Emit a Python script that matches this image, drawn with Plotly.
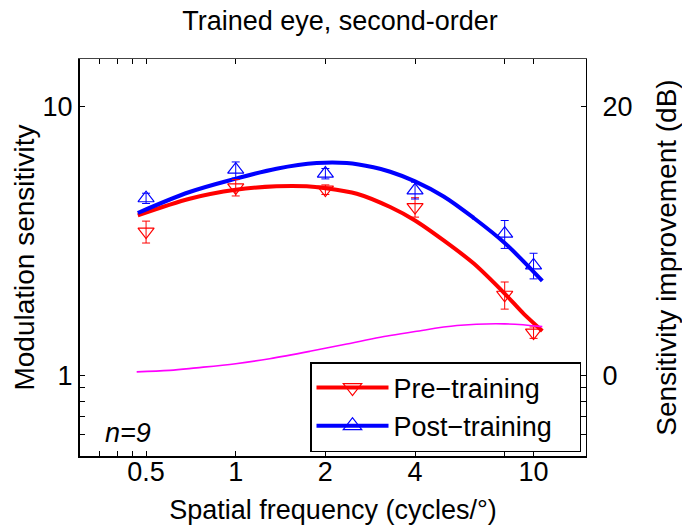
import plotly.graph_objects as go
import math

# ---- data ----
freqs = [0.5, 1, 2, 4, 8, 10]
pre_sens = [3.42, 4.99, 4.90, 4.22, 1.99, 1.44]
pre_err = [0.32, 0.35, 0.20, 0.35, 0.23, 0.07]
post_sens = [4.55, 5.81, 5.62, 4.87, 3.36, 2.56]
post_err = [0.20, 0.40, 0.25, 0.35, 0.40, 0.28]

pre_fit_f = [0.469, 0.70, 1.0, 1.37, 1.73, 2.0, 2.55, 3.30, 4.0, 4.99, 6.3, 8.0, 9.27, 10.7]
pre_fit_s = [3.93, 4.53, 4.89, 5.04, 5.04, 4.96, 4.73, 4.22, 3.76, 3.17, 2.60, 2.01, 1.69, 1.46]
post_fit_f = [0.469, 0.70, 1.0, 1.37, 1.87, 2.36, 2.90, 3.30, 4.0, 4.99, 6.3, 8.0, 10.7]
post_fit_s = [4.01, 4.80, 5.38, 5.86, 6.15, 6.15, 5.93, 5.71, 5.26, 4.62, 3.84, 3.10, 2.24]

impr_f = [0.465, 0.60, 0.738, 1.0, 1.30, 1.775, 2.36, 3.30, 4.0, 5.53, 8.0, 10.7]
impr_db = [0.24, 0.35, 0.54, 0.85, 1.22, 1.77, 2.32, 2.94, 3.24, 3.69, 3.81, 3.61]

x_tickvals = [0.35, 0.4, 0.45, 0.5, 1, 2, 4, 8, 10]
x_ticktext = ["", "", "", "0.5", "1", "2", "4", "", "10"]
y_tickvals = [0.6, 0.7, 0.8, 0.9, 1, 10]
y_ticktext = ["", "", "", "", "1", "10"]
y2_tickvals = [20 * math.log10(v) for v in y_tickvals]
y2_ticktext = ["", "", "", "", "0", "20"]

x_range = [0.3, 15]
y_range = [0.5, 15]

FONT = "Liberation Sans, Arial, Helvetica, sans-serif"
FS = 27
RED = "rgb(255,0,0)"
BLUE = "rgb(0,0,255)"
MAG = "rgb(255,0,255)"
NB = "\u00a0"

fig = go.Figure()

# magenta improvement curve (right axis, dB)
fig.add_trace(go.Scatter(x=impr_f, y=impr_db, mode="lines", line=dict(color=MAG, width=1.6, shape="spline"),
                         xaxis="x2", yaxis="y2", showlegend=False, hoverinfo="skip"))

# fits
fig.add_trace(go.Scatter(x=pre_fit_f, y=pre_fit_s, mode="lines",
                         line=dict(color=RED, width=4, shape="spline", smoothing=0.8), showlegend=False))
fig.add_trace(go.Scatter(x=post_fit_f, y=post_fit_s, mode="lines",
                         line=dict(color=BLUE, width=4, shape="spline", smoothing=1.0), showlegend=False))

# data points with error bars
fig.add_trace(go.Scatter(x=freqs, y=pre_sens, mode="markers",
                         marker=dict(symbol="triangle-down-open", size=14, color=RED, line=dict(width=1.2, color=RED)),
                         error_y=dict(type="data", array=pre_err, color=RED, thickness=1, width=4),
                         showlegend=False))
fig.add_trace(go.Scatter(x=freqs, y=post_sens, mode="markers",
                         marker=dict(symbol="triangle-up-open", size=14, color=BLUE, line=dict(width=1.2, color=BLUE)),
                         error_y=dict(type="data", array=post_err, color=BLUE, thickness=1, width=4),
                         showlegend=False))

# legend entries
fig.add_trace(go.Scatter(x=[None], y=[None], mode="lines+markers", name="Pre\u2212training" + NB * 3,
                         line=dict(color=RED, width=4),
                         marker=dict(symbol="triangle-down-open", size=20, color=RED, line=dict(width=1.2, color=RED))))
fig.add_trace(go.Scatter(x=[None], y=[None], mode="lines+markers", name="Post\u2212training" + NB * 3,
                         line=dict(color=BLUE, width=4),
                         marker=dict(symbol="triangle-up-open", size=20, color=BLUE, line=dict(width=1.2, color=BLUE))))

lx = [math.log10(v) for v in x_range]
ly = [math.log10(v) for v in y_range]
ly2 = [20 * v for v in ly]

fig.update_layout(
    width=682, height=527,
    margin=dict(l=80, r=96, t=59, b=71, autoexpand=False),
    paper_bgcolor="white", plot_bgcolor="white",
    font=dict(family=FONT, size=FS, color="black"),
    title=dict(text="Trained eye, second-order", x=340 / 682, xref="container", xanchor="center",
               y=1 - 21 / 527, yref="container", yanchor="middle", font=dict(size=FS)),
    xaxis=dict(type="log", range=lx, tickvals=x_tickvals, ticktext=x_ticktext, automargin=False,
               ticks="inside", ticklen=5, tickwidth=1, tickcolor="black", ticklabelstandoff=-9,
               showline=True, linewidth=2, linecolor="black", mirror=False, showgrid=False, zeroline=False,
               title=dict(text="Spatial frequency (cycles/\u00b0)", standoff=14, font=dict(size=FS)),
               tickfont=dict(size=FS)),
    xaxis2=dict(type="log", range=lx, overlaying="x", side="top", tickvals=x_tickvals, automargin=False,
                ticktext=[""] * len(x_tickvals), ticks="inside", ticklen=5, tickwidth=1, tickcolor="black",
                showline=True, linewidth=1, linecolor="#444", showgrid=False, zeroline=False),
    yaxis=dict(type="log", range=ly, tickvals=y_tickvals, ticktext=y_ticktext, automargin=False,
               ticks="inside", ticklen=5, tickwidth=1, tickcolor="black",
               showline=True, linewidth=2, linecolor="black", mirror=False, showgrid=False, zeroline=False,
               title=dict(text="Modulation sensitivity", standoff=0, font=dict(size=FS + 1)),
               tickfont=dict(size=FS)),
    yaxis2=dict(range=ly2, overlaying="y", side="right", tickvals=y2_tickvals, ticktext=y2_ticktext,
                automargin=False, ticklabelstandoff=10,
                ticks="inside", ticklen=5, tickwidth=1, tickcolor="black",
                showline=True, linewidth=1, linecolor="black", showgrid=False, zeroline=False,
                title=dict(text="Sensitivity improvement (dB)", standoff=24, font=dict(size=FS + 1)),
                tickfont=dict(size=FS)),
    legend=dict(x=(310 - 80) / 506, y=(456 - 362) / 397, xanchor="left", yanchor="top",
                bgcolor="white", bordercolor="black", borderwidth=1.5,
                font=dict(size=FS), itemwidth=72, tracegroupgap=0),
    annotations=[dict(text="<i>n=9</i>", x=(128 - 80) / 506, y=(456 - 433) / 397, xref="paper", yref="paper",
                      showarrow=False, xanchor="center", yanchor="middle", font=dict(size=FS))],
)

fig.write_html("out.html", config={"displayModeBar": False},
               post_script="document.body.style.margin='0px';")
